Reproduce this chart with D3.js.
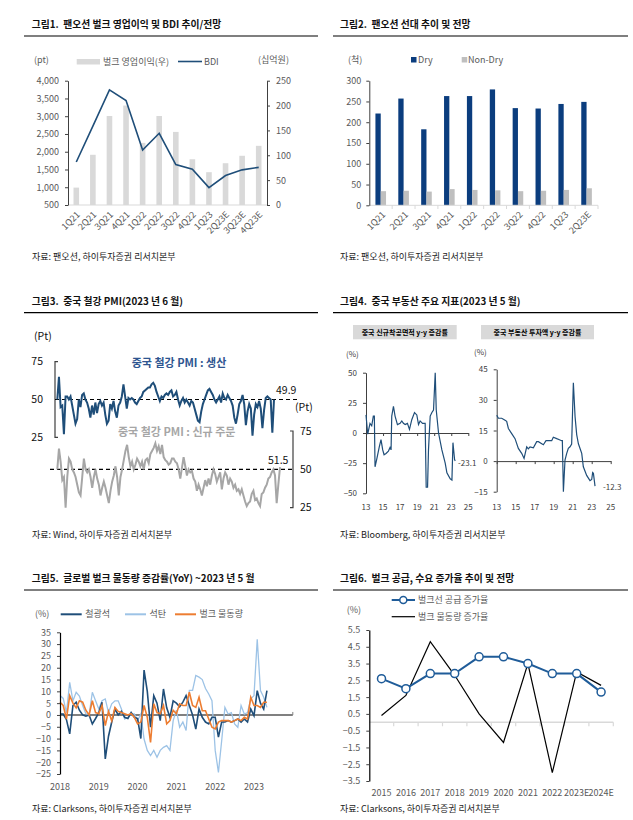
<!DOCTYPE html>
<html>
<head>
<meta charset="utf-8">
<script src="https://cdn.jsdelivr.net/npm/d3@7"></script>
<style>
body { margin: 0; background: #fff; }
text { font-family: "Noto Sans CJK KR", "Noto Sans", sans-serif; }
</style>
</head>
<body>
<svg id="chart" width="633" height="820"></svg>
<script>
// ---- fig 1 : 팬오션 벌크 영업이익 / BDI
var q1Labels = ["1Q21", "2Q21", "3Q21", "4Q21", "1Q22", "2Q22", "3Q22", "4Q22", "1Q23", "2Q23E", "3Q23E", "4Q23E"];
var q1Profit = [35, 101, 179, 200, 125, 179, 147, 92, 66, 84, 99, 119];
var q1Bdi = [1711, 2720, 3740, 3440, 2050, 2520, 1640, 1510, 990, 1330, 1490, 1560];

// ---- fig 2 : 선대
var q2Labels = ["1Q21", "2Q21", "3Q21", "4Q21", "1Q22", "2Q22", "3Q22", "4Q22", "1Q23", "2Q23E"];
var q2Dry = [221, 257, 183, 263, 263, 279, 234, 233, 244, 249];
var q2NonDry = [34, 35, 33, 39, 37, 36, 34, 35, 37, 41];

// ---- fig 3 : 중국 철강 PMI (monthly)
var pmiOutput = [50,65,45,46,27,52,52,50,52,46,40,34,37,50,45,53,54,50,48,44,38,46,40,48,41,47,49,46,48,40,
    34,36,47,44,49,42,38,46,48,52,60,52,44,51,50,51,50,48,47,49,51,52,55,56,57,58,58,60,61,59,
    55,52,49,52,51,53,54,53,55,56,52,53,55,50,46,49,51,48,50,48,46,49,48,44,40,36,35,42,47,50,
    53,56,57,55,53,50,48,50,52,48,54,51,50,53,51,49,46,38,34,40,47,49,53,47,33,42,47,44,26,40,
    47,45,49,44,31,43,51,52,51,50,28,49.9];
var pmiNewOrders = [50,63.5,55,43,45,25,45,57,55,50,48,45,40,35,33,45,57,50,48,50,45,38,45,50,44,40,33,38,42,38,
    33,28,36,42,46,52,45,33,45,50,56,62,66,58,52,55,50,53,57,55,52,55,50,56,57,54,60,62,64,67,
    62,65,60,66,58,56,55,53,54,57,57,55,54,50,44,51,58,52,46,50,48,49,44,42,36,40,37,33,38,43,
    39,44,40,46,50,47,42,45,48,37,44,48,46,40,44,42,38,40,36,37,34,37,33,29,26,28,29,34,36,30,
    31,28,26,34,35,38,40,44,45,48,50,46,28,40,51.5];
var pmiTicks = [25, 50, 75];

// ---- fig 4 : 중국 부동산
var startsYear = [2013.0,2013.2,2013.47,2013.67,2013.86,2013.98,2014.06,2014.25,2014.57,2014.76,2014.96,2015.12,2015.35,2015.63,2015.82,2015.94,
    2016.02,2016.22,2016.41,2016.69,2017.0,2017.2,2017.39,2017.59,2017.86,2018.1,2018.37,2018.69,2018.96,2019.16,2019.35,2019.63,2019.94,
    2020.06,2020.22,2020.33,2020.53,2020.73,2020.92,2021.12,2021.24,2021.51,2021.9,2022.29,2022.49,2022.88,2023.08,2023.2,2023.39,2023.47];
var startsYoy = [15,-1,8,6,14,14,-28,-22,-11,-5.5,-14,-18,-17,-15,-12,-14,
    14,22,14,7,8,10,8,7,8,3,11,17,15,7,10,8,8,
    -45,-45,-14,14,17,19,50,19,0,-14,-25,-33,-38,-39,-8,-22,-23.1];
var investYear = [2013.0,2013.18,2013.53,2013.88,2014.05,2014.23,2014.58,2014.93,2015.28,2015.63,2015.88,2016.16,2016.33,2016.51,2016.86,
    2017.21,2017.39,2017.74,2017.91,2018.19,2018.44,2018.79,2018.96,2019.32,2019.6,2019.84,2019.91,2020.02,2020.19,2020.37,2020.54,2020.72,2020.89,
    2021.07,2021.25,2021.42,2021.6,2021.95,2022.12,2022.47,2022.82,2023.0,2023.1,2023.18,2023.35];
var investYoy = [22.5,21,21,20,19.5,16,13.5,11,6.2,3.8,1.3,7,6,7,6.5,
    9.5,9.5,8.5,8,10,10,10,11.7,11,10.5,10,10,-15,0.5,3.8,6.3,7,8.3,
    38.4,21.7,13,8.5,3.8,-2.8,-7,-9.6,-9,-5.6,-6,-12.3];
var yearTicks = [2013, 2015, 2017, 2019, 2021, 2023, 2025];

// ---- fig 5 : 글로벌 벌크 물동량 증감률, 2018.01 ~ 2023.05
var ironOre = [0.4,0.4,-2,-8,4,5.4,2,0,-0.5,0,-3.8,-1.5,1,5.4,-18.6,-9,-3,2.5,0,1.5,-1,-1.5,1,-1,-1.5,
    -10,19,10,-5.2,8.2,5,-2.4,11,3,-1,6,5,3.5,5.4,8.2,4,0,-6,2.5,-1,-3,-3.8,-1,-1,-9.4,
    -3,-3,-2.4,-3,-2.4,-1.7,-3,-1.7,-3,2.5,-0.3,10.3,5,2.5,10.3];
var coal = [8.2,7,1,13.8,6,9.6,8,4,0.5,0,9.6,6,2.5,6,6.8,1,4.7,6,6,2.5,-1.7,-1,0.4,0.4,-2.4,
    0.4,-10.2,-15,-17.2,-15,-17.9,-15,-13.7,-13,-15,-2.4,2,-5.2,-3,-6.6,10.4,10.4,16.7,16,15,11.2,8.9,6,-15,-24.3,
    -10.9,3.2,0.4,1,-3.8,-5.2,4,0.4,1,6.8,8.2,32,10.3,7.5,3.2];
var bulkTrade = [5.4,4,-1.7,8.2,5,3,6,5.4,2,0,6,1,0.5,4,-4.5,1.5,-2.5,3.2,1.5,1,0.5,0,0.5,-1,-3.8,
    -3,4,-1,-11.6,4.7,1,0.5,4,-3.8,-2.4,2,0.5,4.7,4,4,9.6,4,3.2,7.5,1.8,1.8,-1.7,-5.2,-5.9,-3,
    -2.4,-2.4,-2.4,-3,-2.4,-1.7,-2.4,-1,-1.7,7.5,4,4,3.2,5.4,5.4];
var tradeYears = ["2018", "2019", "2020", "2021", "2022", "2023"];
var tradeTicks = [-25, -20, -15, -10, -5, 0, 5, 10, 15, 20, 25, 30, 35];

// ---- fig 6 : 벌크 공급 / 수요 증가율
var growthYears = ["2015", "2016", "2017", "2018", "2019", "2020", "2021", "2022", "2023E", "2024E"];
var fleetGrowth = [2.6, 2.0, 2.9, 2.9, 3.9, 3.9, 3.5, 2.9, 2.9, 1.8];
var demandGrowth = [0.4, 1.6, 4.8, 2.8, 0.5, -1.2, 3.5, -3.0, 3.0, 2.2];
var growthTicks = [-3.5, -2.5, -1.5, -0.5, 0.5, 1.5, 2.5, 3.5, 4.5, 5.5];

var svg = d3.select("#chart");
var NAVY = "#1f4e79";
var TICK = "#595959";

svg.append("rect").attr("width", 633).attr("height", 820).attr("fill", "#fff");

drawFig1();
drawFig2();
drawFig3();
drawFig4();
drawFig5();
drawFig6();

function txt(g, x, y, s, size, fill, anchor, weight) {
    return g.append("text")
        .attr("x", x)
        .attr("y", y)
        .attr("dy", "0.35em")
        .attr("font-size", size)
        .attr("fill", fill || "#000")
        .attr("text-anchor", anchor || "start")
        .attr("font-weight", weight || "normal")
        .text(s);
}

function heading(x, y, num, title, x1, x2) {
    txt(svg, x, y, num, 9.8, "#111", "start", "bold");
    txt(svg, x + 31.6, y, title, 9.8, "#111", "start", "bold");
    svg.append("line")
        .attr("x1", x1).attr("x2", x2)
        .attr("y1", y + 11).attr("y2", y + 11)
        .attr("stroke", "#000").attr("stroke-width", 1.2);
}

function styleAxis(g, size, color) {
    g.select(".domain").attr("stroke", "#404040");
    g.selectAll(".tick line").attr("stroke", "#404040");
    g.selectAll(".tick text")
        .attr("fill", color || TICK)
        .attr("font-size", size)
        .attr("font-family", '"Noto Sans CJK KR", "Noto Sans", sans-serif');
}

function drawFig1() {
    heading(31.7, 25, "그림1.", "팬오션 벌크 영업이익 및 BDI 추이/전망", 24, 318);
    var g = svg.append("g");
    var x = d3.scaleBand().domain(q1Labels).range([68, 267]);
    var yL = d3.scaleLinear().domain([500, 4000]).range([205, 80.7]);
    var yR = d3.scaleLinear().domain([0, 250]).range([205, 80.7]);

    g.append("line").attr("x1", 68).attr("x2", 267).attr("y1", 205).attr("y2", 205)
        .attr("stroke", "#d9d9d9");

    g.selectAll(".bar1").data(q1Profit).enter()
        .append("rect")
        .attr("class", "bar1")
        .attr("x", function(d, i) { return x(q1Labels[i]) + x.bandwidth() / 2 - 2.8; })
        .attr("width", 5.6)
        .attr("y", function(d) { return yR(d); })
        .attr("height", function(d) { return yR(0) - yR(d); })
        .attr("fill", "#d9d9d9");

    var line = d3.line()
        .x(function(d, i) { return x(q1Labels[i]) + x.bandwidth() / 2; })
        .y(function(d) { return yL(d); });
    g.append("path").datum(q1Bdi)
        .attr("d", line)
        .attr("fill", "none")
        .attr("stroke", NAVY)
        .attr("stroke-width", 1.6);

    var axL = g.append("g").attr("transform", "translate(68,0)")
        .call(d3.axisLeft(yL).tickValues(d3.range(500, 4001, 500)).tickSize(3).tickPadding(6)
            .tickSizeOuter(0).tickFormat(d3.format(",")));
    styleAxis(axL, 9);
    var axR = g.append("g").attr("transform", "translate(267,0)")
        .call(d3.axisRight(yR).tickValues(d3.range(0, 251, 50)).tickSize(3).tickPadding(6).tickSizeOuter(0));
    styleAxis(axR, 9);

    q1Labels.forEach(function(q) {
        g.append("text")
            .attr("transform", "translate(" + (x(q) + x.bandwidth() / 2 + 2) + ",213) rotate(-45)")
            .attr("text-anchor", "end")
            .attr("dy", "0.35em")
            .attr("font-size", 9)
            .attr("fill", TICK)
            .text(q);
    });

    txt(g, 34, 59.5, "(pt)", 9, TICK);
    txt(g, 258, 59.5, "(십억원)", 9, TICK);
    g.append("rect").attr("x", 76.7).attr("y", 59).attr("width", 23.3).attr("height", 5.5).attr("fill", "#d9d9d9");
    txt(g, 103, 61.5, "벌크 영업이익(우)", 9, TICK);
    g.append("line").attr("x1", 178).attr("x2", 202).attr("y1", 61.5).attr("y2", 61.5)
        .attr("stroke", NAVY).attr("stroke-width", 1.6);
    txt(g, 204, 61.5, "BDI", 9, TICK);

    txt(svg, 32, 257, "자료: 팬오션, 하이투자증권 리서치본부", 9, "#222");
}

function drawFig2() {
    heading(340, 25, "그림2.", "팬오션 선대 추이 및 전망", 333, 628);
    var g = svg.append("g");
    var x = d3.scaleBand().domain(q2Labels).range([369.3, 598]);
    var y = d3.scaleLinear().domain([0, 300]).range([205.3, 80.7]);
    var bw = 5.3;

    g.selectAll(".dry").data(q2Dry).enter()
        .append("rect")
        .attr("x", function(d, i) { return x(q2Labels[i]) + x.bandwidth() / 2 - bw; })
        .attr("width", bw)
        .attr("y", function(d) { return y(d); })
        .attr("height", function(d) { return y(0) - y(d); })
        .attr("fill", "#0b3d7e");
    g.selectAll(".nondry").data(q2NonDry).enter()
        .append("rect")
        .attr("x", function(d, i) { return x(q2Labels[i]) + x.bandwidth() / 2; })
        .attr("width", bw)
        .attr("y", function(d) { return y(d); })
        .attr("height", function(d) { return y(0) - y(d); })
        .attr("fill", "#bfbfbf");

    // x baseline with ticks between categories
    g.append("line").attr("x1", 369.3).attr("x2", 598).attr("y1", 205.3).attr("y2", 205.3)
        .attr("stroke", "#d9d9d9");
    q2Labels.forEach(function(q) {
        var bx = x(q) + x.bandwidth();
        g.append("line").attr("x1", bx).attr("x2", bx).attr("y1", 205.3).attr("y2", 209)
            .attr("stroke", "#d9d9d9");
        g.append("text")
            .attr("transform", "translate(" + (x(q) + x.bandwidth() / 2 + 3) + ",213) rotate(-45)")
            .attr("text-anchor", "end")
            .attr("dy", "0.35em")
            .attr("font-size", 9)
            .attr("fill", TICK)
            .text(q);
    });

    var ax = g.append("g").attr("transform", "translate(369.3,0)")
        .call(d3.axisLeft(y).tickValues(d3.range(0, 301, 50)).tickSize(3).tickPadding(5).tickSizeOuter(0));
    styleAxis(ax, 9);

    txt(g, 348, 60, "(척)", 9, TICK);
    g.append("rect").attr("x", 411).attr("y", 57).attr("width", 5.5).attr("height", 5.5).attr("fill", "#0b3d7e");
    txt(g, 418, 60, "Dry", 9, TICK);
    g.append("rect").attr("x", 461.7).attr("y", 57).attr("width", 5.5).attr("height", 5.5).attr("fill", "#bfbfbf");
    txt(g, 468, 60, "Non-Dry", 9, TICK);

    txt(svg, 340, 257, "자료: 팬오션, 하이투자증권 리서치본부", 9, "#222");
}

function drawFig3() {
    heading(31.7, 301.7, "그림3.", "중국 철강 PMI(2023 년 6 월)", 24, 318);
    var g = svg.append("g");
    var y1 = d3.scaleLinear().domain([25, 75]).range([437.3, 361.7]);
    var x1 = d3.scaleLinear().domain([0, pmiOutput.length - 1]).range([57.3, 274]);
    var y2 = d3.scaleLinear().domain([25, 75]).range([507.7, 431]);
    var x2 = d3.scaleLinear().domain([0, pmiNewOrders.length - 1]).range([57.3, 280]);

    // left bracket axis (output)
    g.append("path")
        .attr("d", "M58," + y1(75) + "H55V" + y1(25) + "H58")
        .attr("fill", "none").attr("stroke", "#404040").attr("stroke-width", 1.2);
    pmiTicks.forEach(function(t) {
        txt(g, 43, y1(t), String(t), 10.5, "#111", "end");
        txt(g, 300, y2(t), String(t), 10.5, "#111", "start");
    });
    // right bracket axis (new orders)
    g.append("path")
        .attr("d", "M290," + y2(75) + "H293V" + y2(25) + "H290")
        .attr("fill", "none").attr("stroke", "#404040").attr("stroke-width", 1.2);

    g.append("line").attr("x1", 55).attr("x2", 297).attr("y1", y1(50)).attr("y2", y1(50))
        .attr("stroke", "#000").attr("stroke-dasharray", "4,3").attr("stroke-width", 1.1);
    g.append("line").attr("x1", 50).attr("x2", 293).attr("y1", y2(50)).attr("y2", y2(50))
        .attr("stroke", "#000").attr("stroke-dasharray", "4,3").attr("stroke-width", 1.1);

    g.append("path").datum(pmiNewOrders)
        .attr("d", d3.line().x(function(d, i) { return x2(i); }).y(function(d) { return y2(d); }))
        .attr("fill", "none").attr("stroke", "#a6a6a6").attr("stroke-width", 2);
    g.append("path").datum(pmiOutput)
        .attr("d", d3.line().x(function(d, i) { return x1(i); }).y(function(d) { return y1(d); }))
        .attr("fill", "none").attr("stroke", NAVY).attr("stroke-width", 2);

    txt(g, 179, 362.7, "중국 철강 PMI : 생산", 11, "#2e5590", "middle", "bold");
    txt(g, 176.7, 431.7, "중국 철강 PMI : 신규 주문", 11, "#a6a6a6", "middle", "bold");
    txt(g, 34, 336.7, "(Pt)", 10.5, "#111");
    txt(g, 295, 407, "(Pt)", 10.5, "#111");
    txt(g, 276, 390, "49.9", 10.5, "#111");
    txt(g, 268, 460, "51.5", 10.5, "#111");

    txt(svg, 32, 535, "자료: Wind, 하이투자증권 리서치본부", 9, "#222");
}

function miniChart(g, xs, ys, yDom, yRange, xRange, yStep, endLabel, endPos) {
    var x = d3.scaleLinear().domain([2013, 2025]).range(xRange);
    var y = d3.scaleLinear().domain(yDom).range(yRange);
    var ax = g.append("g").attr("transform", "translate(" + xRange[0] + ",0)")
        .call(d3.axisLeft(y).tickValues(d3.range(yDom[0], yDom[1] + 1, yStep)).tickSize(3).tickPadding(6).tickSizeOuter(0));
    styleAxis(ax, 8, "#404040");
    var zx = g.append("g").attr("transform", "translate(0," + y(0) + ")")
        .call(d3.axisBottom(x).tickValues(yearTicks).tickSize(3).tickSizeOuter(0).tickFormat(""));
    styleAxis(zx, 8);
    yearTicks.forEach(function(t) {
        txt(g, x(t), 507, String(t - 2000), 8, "#404040", "middle");
    });
    var pts = xs.map(function(d, i) { return [d, ys[i]]; });
    g.append("path").datum(pts)
        .attr("d", d3.line().x(function(d) { return x(d[0]); }).y(function(d) { return y(d[1]); }))
        .attr("fill", "none").attr("stroke", NAVY).attr("stroke-width", 1.2);
    txt(g, endPos[0], endPos[1], endLabel, 8, "#404040");
}

function drawFig4() {
    heading(340, 301.7, "그림4.", "중국 부동산 주요 지표(2023 년 5 월)", 333, 628);
    var g = svg.append("g");
    g.append("rect").attr("x", 353).attr("y", 325).attr("width", 103.7).attr("height", 14.3).attr("fill", "#d9d9d9");
    txt(g, 404.8, 332.2, "중국 신규착공면적 y-y 증감률", 7, "#000", "middle", "bold");
    g.append("rect").attr("x", 481).attr("y", 325).attr("width", 113).attr("height", 14.3).attr("fill", "#d9d9d9");
    txt(g, 537.5, 332.2, "중국 부동산 투자액 y-y 증감률", 7, "#000", "middle", "bold");

    txt(g, 346, 354.3, "(%)", 8, "#404040");
    txt(g, 474, 351.7, "(%)", 8, "#404040");

    miniChart(g, startsYear, startsYoy, [-50, 50], [493.3, 372.7], [366, 468.3], 25, "-23.1", [458, 462.7]);
    miniChart(g, investYear, investYoy, [-15, 45], [491.7, 369.3], [496.7, 610.7], 15, "-12.3", [603, 487.3]);

    txt(svg, 340, 535, "자료: Bloomberg, 하이투자증권 리서치본부", 9, "#222");
}

function drawFig5() {
    heading(31.7, 579, "그림5.", "글로벌 벌크 물동량 증감률(YoY) ~2023 년 5 월", 24, 318);
    var g = svg.append("g");
    var x = d3.scaleLinear().domain([0, 72]).range([60, 292.8]);
    var y = d3.scaleLinear().domain([-25, 35]).range([774, 632.3]);

    g.append("line").attr("x1", 60).attr("x2", 292.8).attr("y1", y(0)).attr("y2", y(0))
        .attr("stroke", "#808080").attr("stroke-width", 2);
    g.append("line").attr("x1", 292.8).attr("x2", 292.8).attr("y1", y(0)).attr("y2", y(0) - 3)
        .attr("stroke", "#808080").attr("stroke-width", 1);

    var line = d3.line().x(function(d, i) { return x(i); }).y(function(d) { return y(d); });
    g.append("path").datum(coal).attr("d", line)
        .attr("fill", "none").attr("stroke", "#9dc3e6").attr("stroke-width", 1.3);
    g.append("path").datum(ironOre).attr("d", line)
        .attr("fill", "none").attr("stroke", NAVY).attr("stroke-width", 1.6);
    g.append("path").datum(bulkTrade).attr("d", line)
        .attr("fill", "none").attr("stroke", "#ed7d31").attr("stroke-width", 1.6);

    var ax = g.append("g").attr("transform", "translate(60,0)")
        .call(d3.axisLeft(y).tickValues(tradeTicks).tickSize(3).tickPadding(6).tickSizeOuter(0));
    styleAxis(ax, 9);
    ax.select(".domain").attr("stroke", "#000").attr("stroke-width", 1.2);

    tradeYears.forEach(function(yr, i) {
        txt(g, x(i * 12), 786.7, yr, 9, TICK, "middle");
    });

    txt(g, 35, 614.3, "(%)", 9, TICK);
    var legend = [["철광석", NAVY, 60.7], ["석탄", "#9dc3e6", 125], ["벌크 물동량", "#ed7d31", 175]];
    legend.forEach(function(l) {
        g.append("line").attr("x1", l[2]).attr("x2", l[2] + 21).attr("y1", 614.3).attr("y2", 614.3)
            .attr("stroke", l[1]).attr("stroke-width", 2);
        txt(g, l[2] + 24.5, 614.3, l[0], 9, TICK);
    });

    txt(svg, 32, 809.3, "자료: Clarksons, 하이투자증권 리서치본부", 9, "#222");
}

function drawFig6() {
    heading(340, 579, "그림6.", "벌크 공급, 수요 증가율 추이 및 전망", 333, 628);
    var g = svg.append("g");
    var x = d3.scaleBand().domain(growthYears).range([369.3, 613.3]);
    var y = d3.scaleLinear().domain([-3.5, 5.5]).range([781, 630]);
    var cx = function(d, i) { return x(growthYears[i]) + x.bandwidth() / 2; };

    g.append("line").attr("x1", 369.3).attr("x2", 613.3).attr("y1", y(0)).attr("y2", y(0))
        .attr("stroke", "#d9d9d9").attr("stroke-width", 1.5);
    growthYears.forEach(function(yr) {
        var bx = x(yr) + x.bandwidth();
        g.append("line").attr("x1", bx).attr("x2", bx).attr("y1", y(0)).attr("y2", y(0) + 4)
            .attr("stroke", "#d9d9d9").attr("stroke-width", 1.2);
        txt(g, x(yr) + x.bandwidth() / 2, 793.3, yr, 9, TICK, "middle");
    });

    var ax = g.append("g").attr("transform", "translate(369.3,0)")
        .call(d3.axisLeft(y).tickValues(growthTicks).tickSize(3).tickPadding(6).tickSizeOuter(0)
            .tickFormat(d3.format(".1f")));
    styleAxis(ax, 9);
    ax.select(".domain").attr("stroke", "#000").attr("stroke-width", 1.2);

    g.append("path").datum(demandGrowth)
        .attr("d", d3.line().x(cx).y(function(d) { return y(d); }))
        .attr("fill", "none").attr("stroke", "#000").attr("stroke-width", 1.2);
    g.append("path").datum(fleetGrowth)
        .attr("d", d3.line().x(cx).y(function(d) { return y(d); }))
        .attr("fill", "none").attr("stroke", "#1f5c99").attr("stroke-width", 2);
    g.selectAll(".dot6").data(fleetGrowth).enter()
        .append("circle")
        .attr("cx", cx)
        .attr("cy", function(d) { return y(d); })
        .attr("r", 4)
        .attr("fill", "#fff")
        .attr("stroke", "#1f5c99")
        .attr("stroke-width", 1.5);

    txt(g, 346.7, 610, "(%)", 9, TICK);
    g.append("line").attr("x1", 391.7).attr("x2", 415).attr("y1", 600).attr("y2", 600)
        .attr("stroke", "#1f5c99").attr("stroke-width", 2);
    g.append("circle").attr("cx", 403.3).attr("cy", 600).attr("r", 3.5)
        .attr("fill", "#fff").attr("stroke", "#1f5c99").attr("stroke-width", 1.5);
    txt(g, 418, 600, "벌크선 공급 증가율", 9, TICK);
    g.append("line").attr("x1", 391.7).attr("x2", 415).attr("y1", 616.7).attr("y2", 616.7)
        .attr("stroke", "#000").attr("stroke-width", 1.2);
    txt(g, 418, 616.7, "벌크 물동량 증가율", 9, TICK);

    txt(svg, 340, 809.3, "자료: Clarksons, 하이투자증권 리서치본부", 9, "#222");
}
</script>
</body>
</html>
